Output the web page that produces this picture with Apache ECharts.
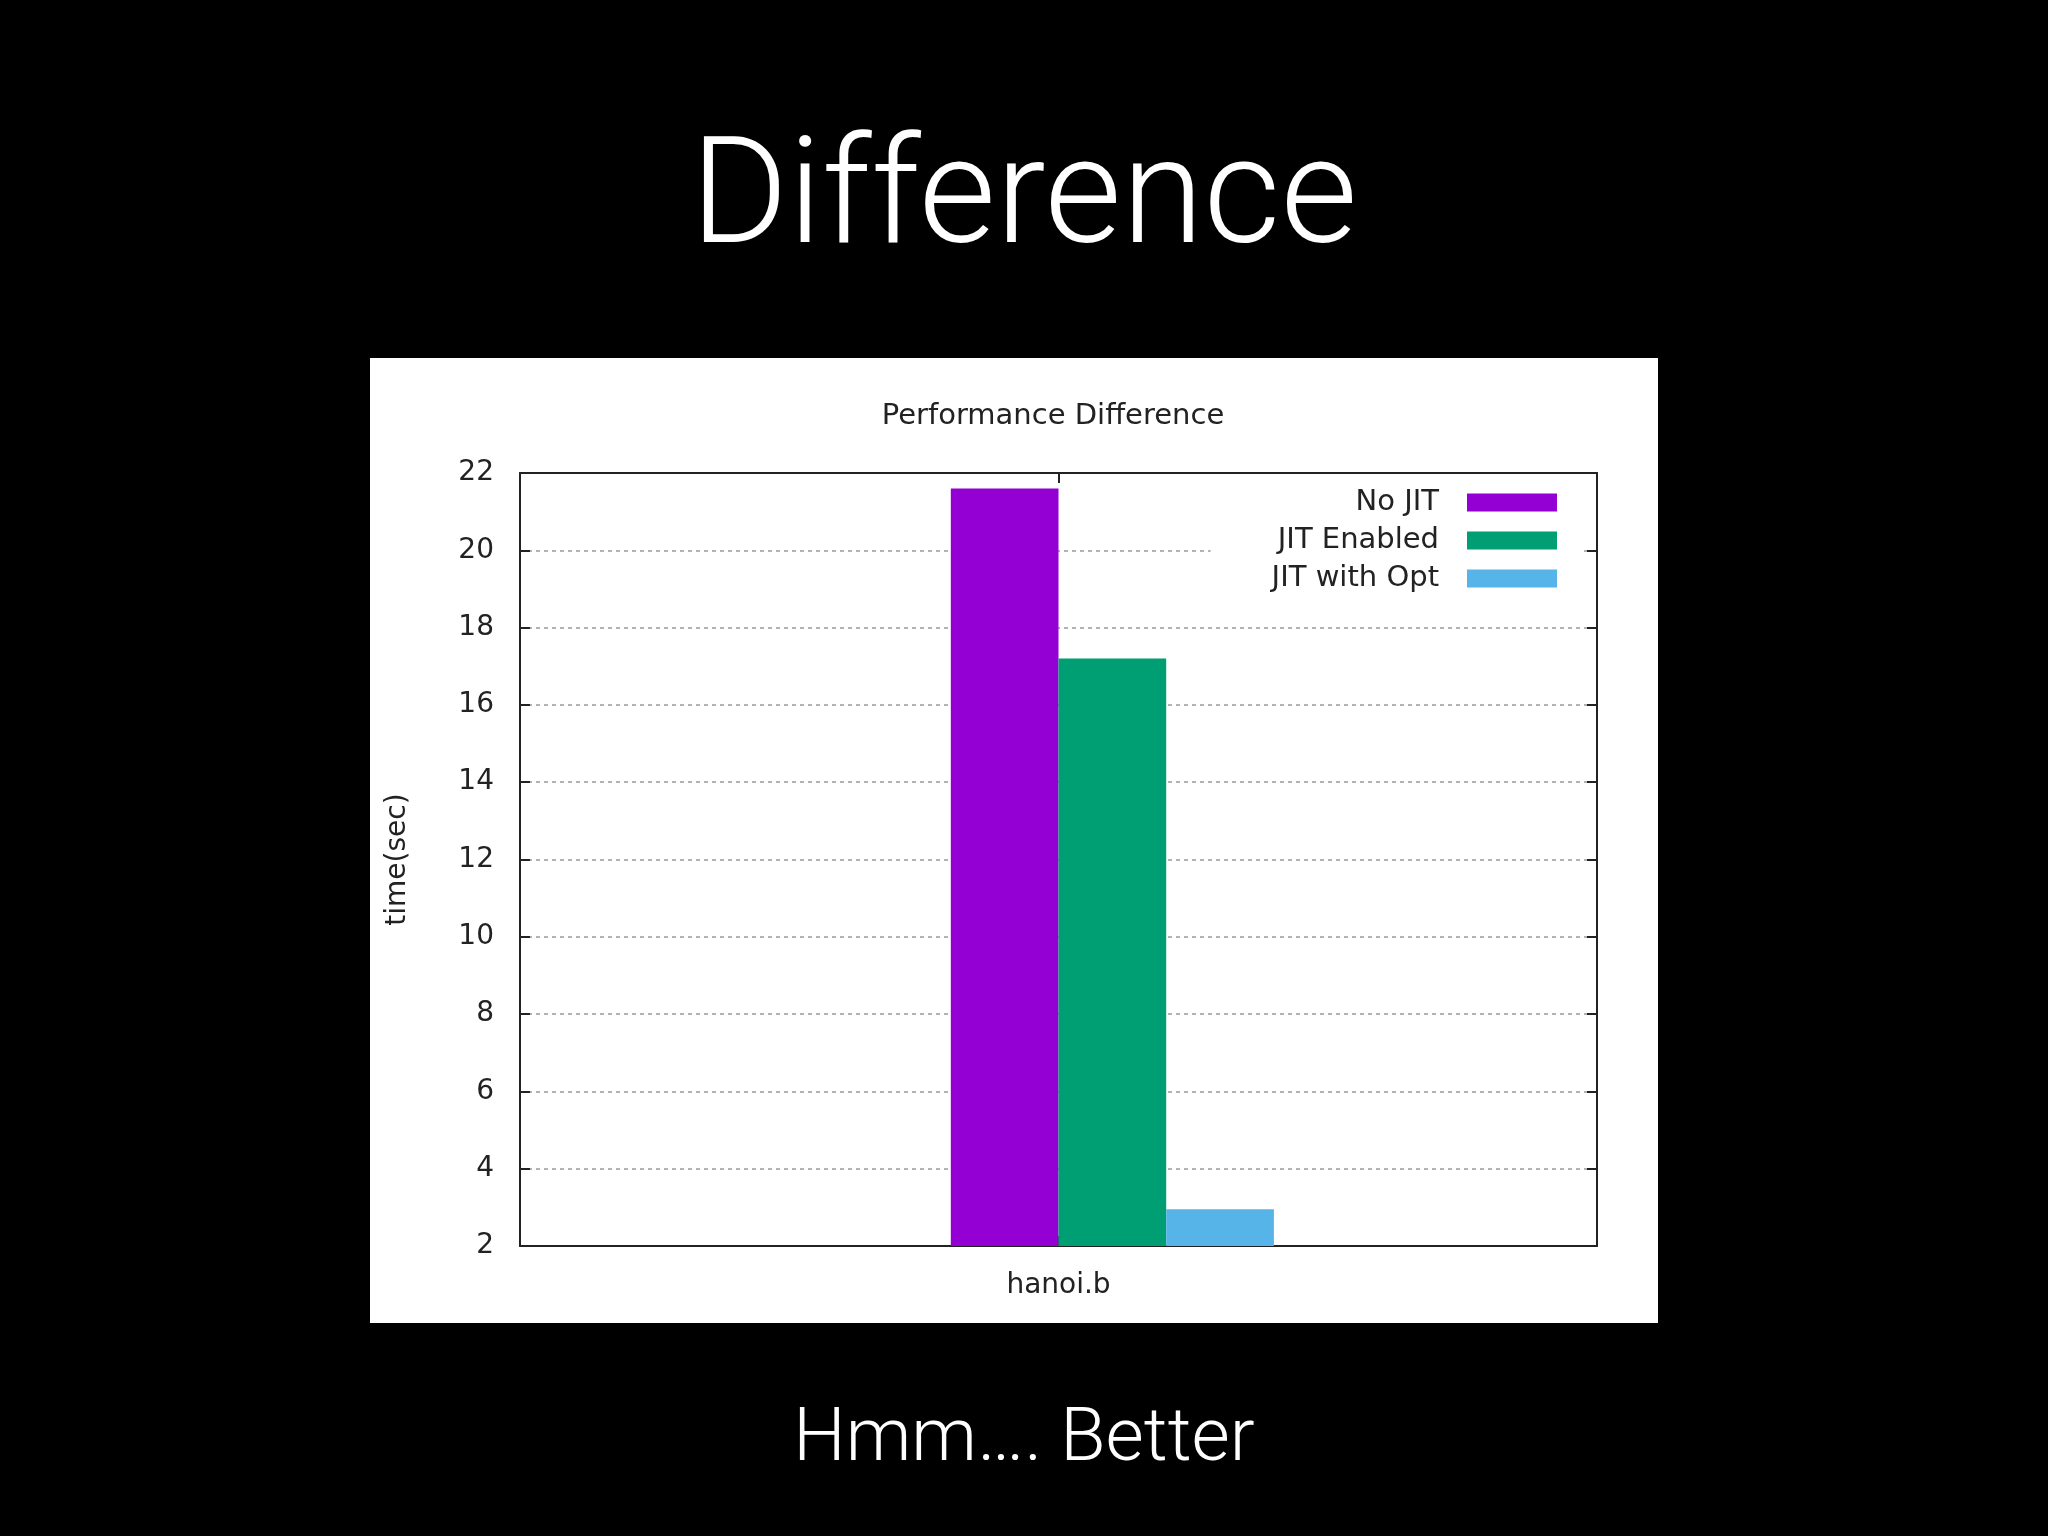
<!DOCTYPE html>
<html><head><meta charset="utf-8">
<script src="https://cdn.jsdelivr.net/npm/echarts@6/dist/echarts.min.js"></script>
<style>html,body{margin:0;padding:0;background:#000}#c{width:2048px;height:1536px}</style>
</head><body><div id="c"></div>
<script>
// ---- data ----
const categories = ['hanoi.b'];
const seriesNames = ['No JIT', 'JIT Enabled', 'JIT with Opt'];
const noJit = [21.6];
const jitEnabled = [17.2];
const jitWithOpt = [2.95];
const emptySlot = [null];
const yMin = 2, yMax = 22, yStep = 2;
const slideTitle = 'Difference';
const chartTitle = 'Performance Difference';
const yName = 'time(sec)';
const caption = 'Hmm…. Better';

const colors = ['#9400d3', '#009e73', '#56b4e9'];
const ink = '#222';
const chartFont = 'DejaVu Sans';
const axisText = { fontFamily: chartFont, fontSize: 28, color: ink };
const boxLine = { show: true, onZero: false, lineStyle: { color: ink, width: 2 } };
const inTick = { show: true, inside: true, length: 10, alignWithLabel: true, lineStyle: { color: ink, width: 2 } };

const chart = echarts.init(document.getElementById('c'), null, { renderer: 'canvas' });
const option = {
  backgroundColor: '#000',
  animation: false,
  graphic: [
    { type: 'rect', z: -10, silent: true, shape: { x: 370, y: 358, width: 1288, height: 965 }, style: { fill: '#fff' } },
    { type: 'text', z: 100, x: 1024, y: 205, style: { text: slideTitle, fill: '#fff', font: '300 149px Roboto, "Liberation Sans", sans-serif', align: 'center', verticalAlign: 'middle' } },
    { type: 'text', z: 100, x: 1053, y: 416, style: { text: chartTitle, fill: ink, font: '29px "DejaVu Sans"', align: 'center', verticalAlign: 'middle' } },
    { type: 'text', z: 100, x: 1024, y: 1441, style: { text: caption, fill: '#fff', font: '300 74px Roboto, "Liberation Sans", sans-serif', align: 'center', verticalAlign: 'middle' } }
  ],
  grid: { left: 520, top: 473, right: 451, bottom: 290, containLabel: false, outerBoundsMode: 'none' },
  legend: {
    data: seriesNames, orient: 'vertical', align: 'right', right: 465, top: 480,
    backgroundColor: '#fff', padding: [8, 26, 8, 61], itemWidth: 90, itemHeight: 18, itemGap: 9,
    icon: 'rect', selectedMode: false,
    textStyle: { fontFamily: chartFont, fontSize: 29, color: ink, lineHeight: 28, padding: [0, 23, 0, 0] }
  },
  xAxis: [
    { type: 'category', data: categories, position: 'bottom', axisLine: boxLine, axisTick: inTick,
      axisLabel: Object.assign({ margin: 26 }, axisText), splitLine: { show: false } },
    { type: 'category', data: categories, position: 'top', axisLine: boxLine, axisTick: inTick,
      axisLabel: { show: false }, splitLine: { show: false } }
  ],
  yAxis: [
    { type: 'value', min: yMin, max: yMax, interval: yStep, position: 'left',
      name: yName, nameLocation: 'middle', nameRotate: 90, nameGap: 108, nameTextStyle: axisText,
      axisLine: boxLine, axisTick: inTick, axisLabel: Object.assign({ margin: 26 }, axisText),
      splitLine: { show: true, lineStyle: { color: '#9a9a9a', width: 1.5, type: [4, 4] } } },
    { type: 'value', min: yMin, max: yMax, interval: yStep, position: 'right',
      axisLine: boxLine, axisTick: inTick, axisLabel: { show: false }, splitLine: { show: false } }
  ],
  series: [
    { name: '', type: 'bar', data: emptySlot, barGap: '0%', barCategoryGap: '60%', itemStyle: { color: 'rgba(0,0,0,0)' } },
    { name: seriesNames[0], type: 'bar', data: noJit, barGap: '0%', barCategoryGap: '60%', itemStyle: { color: colors[0] } },
    { name: seriesNames[1], type: 'bar', data: jitEnabled, barGap: '0%', barCategoryGap: '60%', itemStyle: { color: colors[1] } },
    { name: seriesNames[2], type: 'bar', data: jitWithOpt, barGap: '0%', barCategoryGap: '60%', itemStyle: { color: colors[2] } }
  ]
};
chart.setOption(option);
</script>
</body></html>
